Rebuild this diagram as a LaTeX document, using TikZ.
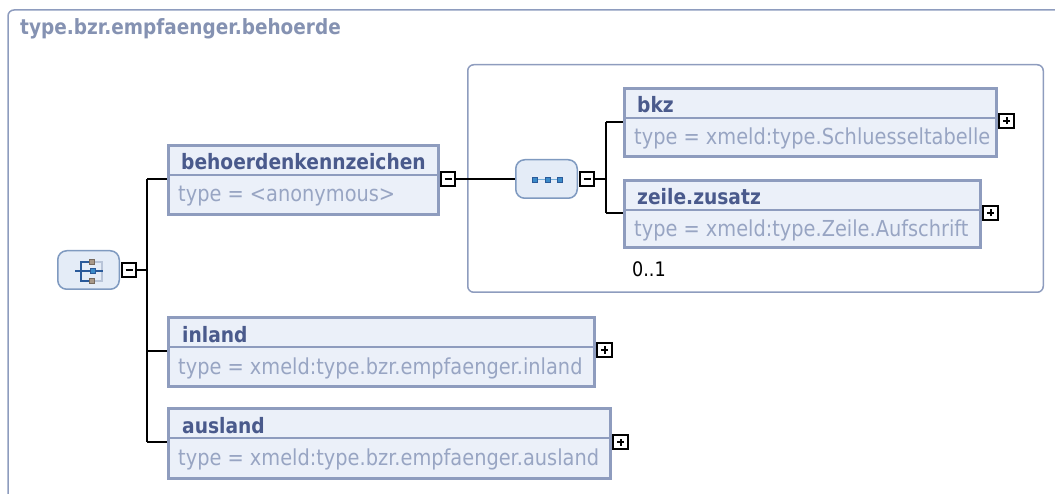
\documentclass[tikz,border=0pt]{standalone}
\usepackage{fontspec}
\setmainfont{DejaVu Sans}[FakeStretch=0.88]
\definecolor{framec}{HTML}{8E9CBE}
\definecolor{elfill}{HTML}{EBF0F9}
\definecolor{eltitle}{HTML}{4A5A8C}
\definecolor{eltype}{HTML}{98A5C3}
\definecolor{maintitle}{HTML}{8592B2}
\definecolor{compfill}{HTML}{E4ECF7}
\definecolor{compline}{HTML}{7F9AC0}
\definecolor{iconblue}{HTML}{3A8AC8}
\definecolor{icondark}{HTML}{2A5A9A}
\definecolor{iconbrown}{HTML}{A89888}
\definecolor{iconlight}{HTML}{B8C4D8}
\tikzset{
  elbox/.style={draw=framec, fill=elfill, line width=3pt, rectangle, inner sep=0pt},
  divline/.style={draw=framec, line width=1.5pt},
  eltitletext/.style={anchor=base west, inner sep=0pt, text=eltitle, font=\fontsize{21.2}{23}\selectfont\bfseries},
  eltypetext/.style={anchor=base west, inner sep=0pt, text=eltype, font=\fontsize{22}{24}\selectfont},
  pmbox/.style={draw=black, fill=white, line width=1.6pt, rectangle, minimum width=14.5pt, minimum height=14.5pt, inner sep=0pt},
  compbox/.style={draw=compline, fill=compfill, line width=1.5pt, rectangle, rounded corners=9pt, minimum width=61.5pt, minimum height=38.5pt, inner sep=0pt},
  conn/.style={draw=black, line width=1.5pt},
  groupframe/.style={draw=framec, line width=1.5pt, rounded corners=6pt},
}
\newcommand{\pmminus}[1]{\draw[black, line width=2pt] ([xshift=-3.5pt]#1.center) -- ([xshift=3.5pt]#1.center);}
\newcommand{\pmplus}[1]{\draw[black, line width=2pt] ([xshift=-3.5pt]#1.center) -- ([xshift=3.5pt]#1.center) ([yshift=-3.5pt]#1.center) -- ([yshift=3.5pt]#1.center);}
\begin{document}
\begin{tikzpicture}[x=1pt,y=-1pt]
\useasboundingbox (0,0) rectangle (1055,494);
% outer frame
\draw[framec, line width=1.5pt, rounded corners=6pt] (8,520) -- (8,10) -- (1080,10);
\node[anchor=base west, inner sep=0pt, text=maintitle, font=\fontsize{21}{23}\selectfont\bfseries] (maintitle) at (20,35) {type.bzr.empfaenger.behoerde};
% group frame of sequence
\draw[groupframe] (467.75,64.75) rectangle (1043.25,292.25);

% elements
\node[elbox, minimum width=270pt, minimum height=69pt] (beh) at (303.5,180) {};
\draw[divline] (170,175) -- (437,175);
\node[eltitletext] (behT) at (181,170) {behoerdenkennzeichen};
\node[eltypetext] (behY) at (178,202) {type = <anonymous>};

\node[elbox, minimum width=372pt, minimum height=68pt] (bkz) at (810.5,122.5) {};
\draw[divline] (626,118) -- (995,118);
\node[eltitletext] (bkzT) at (637,113) {bkz};
\node[eltypetext] (bkzY) at (634,145) {type = xmeld:type.Schluesseltabelle};

\node[elbox, minimum width=356pt, minimum height=67pt] (zeile) at (802.5,214) {};
\draw[divline] (626,210) -- (979,210);
\node[eltitletext] (zeileT) at (637,205) {zeile.zusatz};
\node[eltypetext] (zeileY) at (634,237) {type = xmeld:type.Zeile.Aufschrift};
\node[anchor=base west, inner sep=0pt, font=\fontsize{20}{22}\selectfont] (occ) at (632,277) {0..1};

\node[elbox, minimum width=426pt, minimum height=69pt] (inland) at (381.5,352) {};
\draw[divline] (170,347) -- (593,347);
\node[eltitletext] (inlandT) at (182,342) {inland};
\node[eltypetext] (inlandY) at (178,374) {type = xmeld:type.bzr.empfaenger.inland};

\node[elbox, minimum width=442pt, minimum height=70pt] (ausland) at (389.5,443.5) {};
\draw[divline] (170,438) -- (609,438);
\node[eltitletext] (auslandT) at (182,433) {ausland};
\node[eltypetext] (auslandY) at (178,465) {type = xmeld:type.bzr.empfaenger.ausland};

% plus / minus boxes
\node[pmbox] (behM) at (448,179) {}; \pmminus{behM}
\node[pmbox] (bkzP) at (1006.5,121) {}; \pmplus{bkzP}
\node[pmbox] (zeileP) at (990.5,213) {}; \pmplus{zeileP}
\node[pmbox] (inlandP) at (604.5,350) {}; \pmplus{inlandP}
\node[pmbox] (auslandP) at (620.5,442) {}; \pmplus{auslandP}

% compositors
\node[compbox] (choice) at (88.5,270) {};
\node[pmbox] (choiceM) at (129,270) {}; \pmminus{choiceM}
\node[compbox] (seq) at (546.5,179) {};
\node[pmbox] (seqM) at (587,179) {}; \pmminus{seqM}

% choice icon
\draw[iconlight, line width=1.2pt] (95,262) -- (102,262) -- (102,281) -- (95,281);
\draw[icondark, line width=1.4pt] (90,262) -- (81,262) -- (81,281) -- (90,281);
\draw[icondark, line width=1.4pt] (75,271) -- (103,271);
\filldraw[fill=iconbrown, draw=iconbrown!70!black, line width=0.6pt] (89.5,259.5) rectangle (94.5,264.5);
\filldraw[fill=iconbrown, draw=iconbrown!70!black, line width=0.6pt] (89.5,278.5) rectangle (94.5,283.5);
\filldraw[fill=iconblue, draw=icondark, line width=0.8pt] (90.5,268.5) rectangle (95.5,273.5);
% sequence icon
\draw[iconblue!70!white, line width=1pt] (535,179.5) -- (560,179.5);
\foreach \sx in {535,547.5,560}{
  \filldraw[fill=iconblue, draw=icondark, line width=0.7pt] (\sx-2.5,177) rectangle (\sx+2.5,182);
}

% connectors
\coordinate (spine) at (147,0);
\coordinate (spine2) at (606,0);
\draw[conn] (choiceM.east) -- (choiceM.east -| spine);
\draw[conn] (spine |- 0,179) -- (spine |- 0,442);
\draw[conn] (spine |- 0,179) -- (beh.west |- 0,179);
\draw[conn] (spine |- 0,351) -- (inland.west |- 0,351);
\draw[conn] (spine |- 0,442) -- (ausland.west |- 0,442);
\draw[conn] (behM.east) -- (seq.west);
\draw[conn] (seqM.east) -- (seqM.east -| spine2);
\draw[conn] (spine2 |- 0,122) -- (spine2 |- 0,213);
\draw[conn] (spine2 |- 0,122) -- (bkz.west |- 0,122);
\draw[conn] (spine2 |- 0,213) -- (zeile.west |- 0,213);
\end{tikzpicture}
\end{document}
